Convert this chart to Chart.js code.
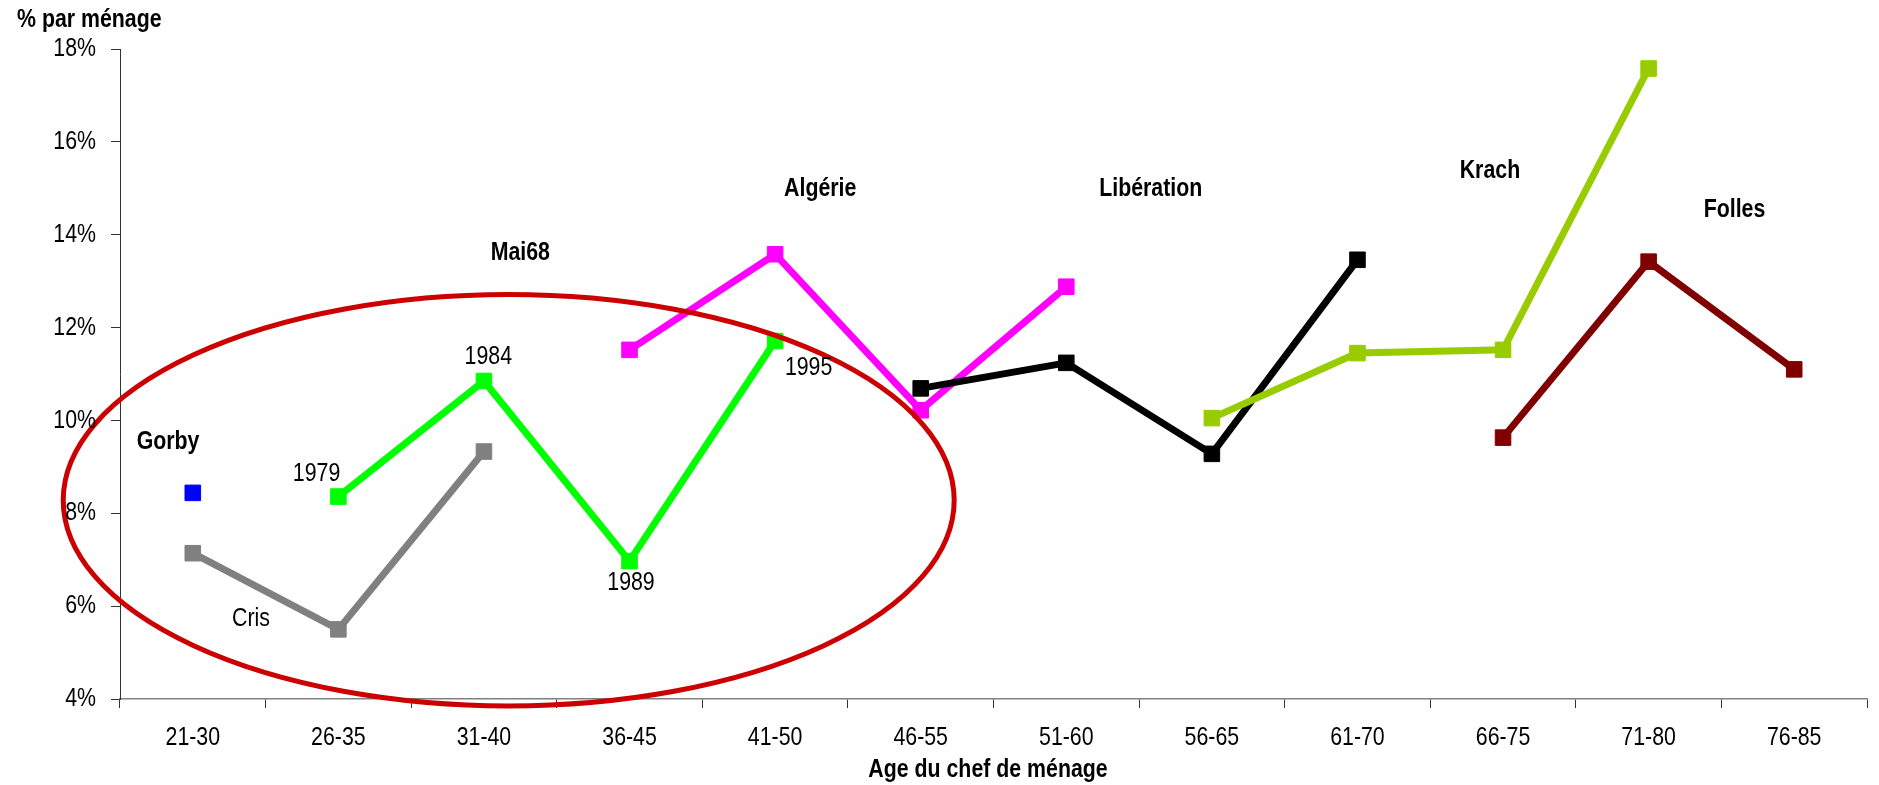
<!DOCTYPE html>
<html lang="fr">
<head>
<meta charset="utf-8">
<title>% par ménage</title>
<script src="https://cdn.jsdelivr.net/npm/chart.js@4.4.1/dist/chart.umd.min.js"></script>
<style>
  html, body { margin: 0; padding: 0; background: #fff; }
  #wrap { width: 1879px; height: 785px; }
</style>
</head>
<body>
<div id="wrap"><canvas id="chart" width="1879" height="785"></canvas></div>
<script>
// No narrow face installed: draw Liberation Sans squeezed to Arial Narrow proportions
const FONT = "'Liberation Sans', Arial, sans-serif";
const NARROW = 0.82;

// Age groups on the x axis
const ageGroups = ['21-30', '26-35', '31-40', '36-45', '41-50', '46-55',
                   '51-60', '56-65', '61-70', '66-75', '71-80', '76-85'];

// % par ménage, one array per generation (null = no point)
const gorby      = [8.44, null, null, null, null, null, null, null, null, null, null, null];
const cris       = [7.14, 5.50, 9.33, null, null, null, null, null, null, null, null, null];
const mai68      = [null, 8.36, 10.85, 6.97, 11.71, null, null, null, null, null, null, null];
const algerie    = [null, null, null, 11.52, 13.58, 10.22, 12.88, null, null, null, null, null];
const liberation = [null, null, null, null, null, 10.69, 11.24, 9.28, 13.46, null, null, null];
const krach      = [null, null, null, null, null, null, null, 10.05, 11.45, 11.52, 17.58, null];
const folles     = [null, null, null, null, null, null, null, null, null, 9.63, 13.42, 11.10];

const yTicks = [4, 6, 8, 10, 12, 14, 16, 18];

// Text notes anchored in data space: [text, category index, value, bold]
const notes = [
  ['Gorby', -0.17, 9.54, true],
  ['Cris', 0.40, 5.72, false],
  ['1979', 0.85, 8.85, false],
  ['1984', 2.03, 11.37, false],
  ['1989', 3.01, 6.50, false],
  ['1995', 4.23, 11.13, false],
  ['Mai68', 2.25, 13.61, true],
  ['Algérie', 4.31, 14.98, true],
  ['Libération', 6.58, 14.99, true],
  ['Krach', 8.91, 15.37, true],
  ['Folles', 10.59, 14.53, true]
];

// Red ellipse around the young generations, in data space
const ellipseCenter = [2.17, 8.28];
const ellipseRadius = [3.06, 4.43];

const series = [
  { label: 'Gorby', data: gorby, color: '#0000ff' },
  { label: 'Cris', data: cris, color: '#808080' },
  { label: 'Mai68', data: mai68, color: '#00ff00' },
  { label: 'Algérie', data: algerie, color: '#ff00ff' },
  { label: 'Libération', data: liberation, color: '#000000' },
  { label: 'Krach', data: krach, color: '#99cc00' },
  { label: 'Folles', data: folles, color: '#800000' }
];

function narrowText(ctx, text, x, y, align, baseline, bold) {
  ctx.save();
  ctx.translate(x, y);
  ctx.scale(NARROW, 1);
  ctx.font = (bold ? 'bold ' : '') + '26px ' + FONT;
  ctx.textAlign = align;
  ctx.textBaseline = baseline;
  ctx.fillStyle = '#000';
  ctx.fillText(text, 0, 0);
  ctx.restore();
}

const overlay = {
  id: 'overlay',
  afterDatasetsDraw(chart) {
    const { ctx, scales: { x, y } } = chart;
    ctx.save();

    // ellipse
    const cx = x.getPixelForValue(ellipseCenter[0]);
    const cy = y.getPixelForValue(ellipseCenter[1]);
    const rx = x.getPixelForValue(ellipseCenter[0] + ellipseRadius[0]) - cx;
    const ry = cy - y.getPixelForValue(ellipseCenter[1] + ellipseRadius[1]);
    ctx.beginPath();
    ctx.ellipse(cx, cy, rx, ry, 0, 0, Math.PI * 2);
    ctx.strokeStyle = '#cc0000';
    ctx.lineWidth = 5;
    ctx.stroke();
    ctx.restore();

    // notes
    notes.forEach(([text, idx, val, bold]) => {
      narrowText(ctx, text, x.getPixelForValue(idx), y.getPixelForValue(val), 'center', 'middle', bold);
    });
  },
  afterDraw(chart) {
    const { ctx, scales: { x, y } } = chart;
    // tick labels
    ageGroups.forEach((g, i) => {
      narrowText(ctx, g, x.getPixelForTick(i), x.top + 39, 'center', 'middle', false);
    });
    yTicks.forEach(v => {
      narrowText(ctx, v + '%', y.left + 96, y.getPixelForValue(v), 'right', 'middle', false);
    });
    // axis captions
    narrowText(ctx, 'Age du chef de ménage', 988, 770, 'center', 'middle', true);
    narrowText(ctx, '% par ménage', 17, 27, 'left', 'alphabetic', true);
  }
};

new Chart(document.getElementById('chart').getContext('2d'), {
  type: 'line',
  data: {
    labels: ageGroups,
    datasets: series.map((s, i) => ({
      label: s.label,
      data: s.data,
      borderColor: s.color,
      backgroundColor: s.color,
      pointBackgroundColor: s.color,
      pointBorderColor: s.color,
      pointBorderWidth: 1,
      pointStyle: 'rect',
      pointRadius: 11,
      borderWidth: 7,
      tension: 0,
      spanGaps: false,
      order: series.length - i
    }))
  },
  options: {
    responsive: false,
    devicePixelRatio: 1,
    animation: false,
    layout: { padding: { top: 49, right: 1, bottom: 0, left: 0 } },
    plugins: {
      legend: { display: false },
      tooltip: { enabled: false }
    },
    scales: {
      x: {
        offset: true,
        afterFit: (scale) => { scale.height = 86; },
        grid: { offset: true, drawOnChartArea: false, drawTicks: true, tickLength: 9, color: '#333' },
        border: { color: '#808080', width: 1.5 },
        ticks: { display: false, autoSkip: false }
      },
      y: {
        min: 4,
        max: 18,
        afterFit: (scale) => { scale.width = 120; },
        afterBuildTicks: (scale) => { scale.ticks = yTicks.map(v => ({ value: v })); },
        grid: { drawOnChartArea: false, drawTicks: true, tickLength: 9, color: '#333' },
        border: { color: '#333', width: 1 },
        ticks: { display: false }
      }
    }
  },
  plugins: [overlay]
});
</script>
</body>
</html>
